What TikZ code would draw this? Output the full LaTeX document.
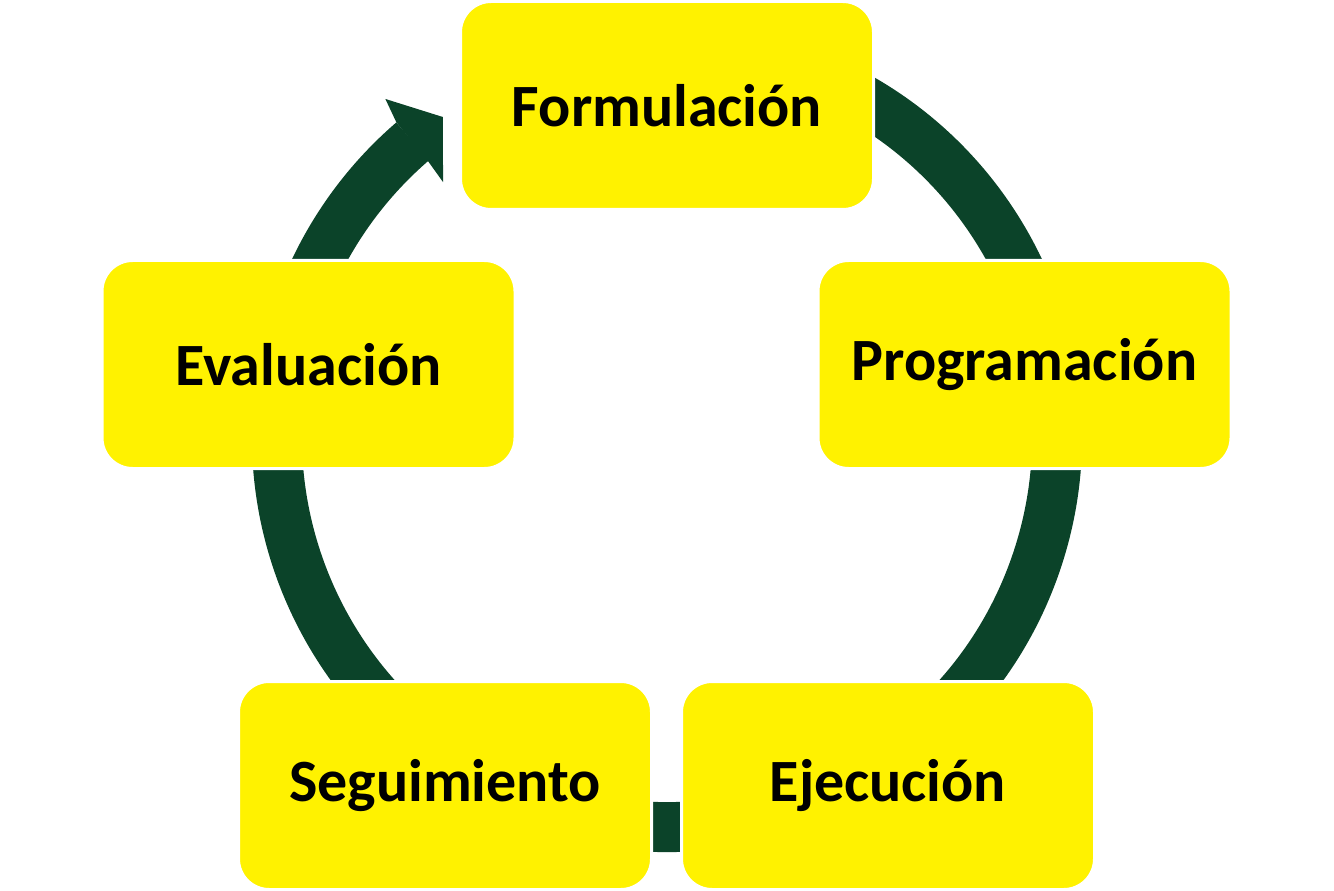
\documentclass[tikz,border=0pt]{standalone}
\usepackage{fontspec}
\setmainfont{Carlito}
\usetikzlibrary{calc}
\definecolor{ciclogreen}{HTML}{0B4329}
\definecolor{cicloyellow}{HTML}{FFF200}

\begin{document}
\begin{tikzpicture}[x=0.75pt,y=0.75pt,
  etapa/.style={fill=cicloyellow,draw=white,line width=2.25pt,
    rounded corners=23pt,minimum width=309.75pt,minimum height=156pt,
    inner sep=0pt,font=\fontsize{45}{53}\selectfont\bfseries},
  anillo/.style={draw=ciclogreen,line width=37.5pt}]
  \useasboundingbox (0,0) rectangle (1334,-891);
  \coordinate (C) at (667,-437);
  \draw[anillo] ($(C)+(70:390)$) arc[start angle=70,end angle=-229.3,radius=390];
  \fill[ciclogreen] ($(C)+(130.7:415)$) -- ($(C)+(129.8:440)$)
    -- ($(C)+(125:390.6)$) -- ($(C)+(131.3:339.4)$) -- ($(C)+(130.9:365)$) -- cycle;
  \node[etapa] (form) at (667,-105.5) {Formulación};
  \node[etapa] (prog) at (1024.5,-364.5) {Programación};
  \node[etapa] (ejec) at (888,-785.5) {Ejecución};
  \node[etapa] (segu) at (445,-785.5) {Seguimiento};
  \node[etapa] (eval) at (308.5,-364.5) {Evaluación};
\end{tikzpicture}
\end{document}
